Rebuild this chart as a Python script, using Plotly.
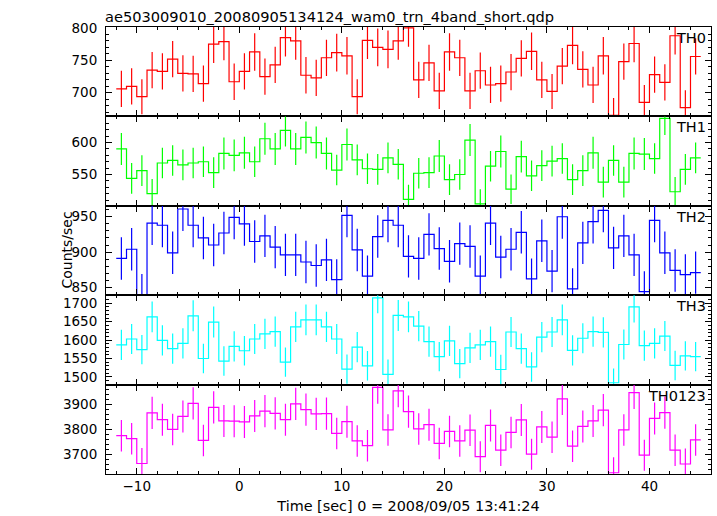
import plotly.graph_objects as go
from plotly.subplots import make_subplots

# ---- data (1-s bins, centres from -11.5 to 44.5 s) ----
t_start = -11.5
n_bins = 57
time_centres = [t_start + i for i in range(n_bins)]

th0 = [706, 710, 694, 735, 733, 752, 730, 729, 714, 775,
       779, 717, 733, 763, 725, 743, 785, 780, 727, 723,
       754, 762, 757, 694, 781, 770, 767, 780, 800, 720,
       746, 703, 763, 754, 703, 734, 712, 714, 732, 753,
       764, 720, 702, 741, 773, 736, 712, 757, 665, 748,
       776, 685, 728, 716, 788, 677, 756]
th0_err = [28, 28, 27, 28, 28, 28, 28, 28, 28, 29,
           29, 28, 28, 29, 28, 28, 29, 29, 28, 28,
           28, 29, 29, 27, 29, 29, 29, 29, 29, 28,
           28, 28, 29, 28, 28, 28, 28, 28, 28, 28,
           29, 28, 27, 28, 29, 28, 28, 29, 27, 28,
           29, 27, 28, 28, 29, 27, 28]

th1 = [590, 544, 556, 520, 568, 572, 565, 568, 570, 553,
       583, 580, 584, 570, 606, 590, 619, 590, 608, 600,
       583, 557, 597, 573, 559, 558, 576, 566, 511, 552,
       553, 579, 542, 550, 604, 504, 563, 586, 527, 578,
       548, 564, 571, 575, 542, 556, 584, 538, 572, 538,
       583, 582, 575, 638, 523, 558, 576]
th1_err = [25, 24, 24, 23, 24, 24, 24, 24, 24, 24,
           25, 25, 25, 24, 25, 25, 25, 25, 25, 25,
           25, 24, 25, 24, 24, 24, 24, 24, 23, 24,
           24, 25, 24, 24, 25, 23, 24, 25, 23, 25,
           24, 24, 24, 24, 24, 24, 25, 24, 24, 24,
           25, 25, 24, 26, 23, 24, 24]

th2 = [891, 904, 840, 941, 938, 899, 961, 938, 920, 910,
       927, 949, 940, 915, 923, 907, 896, 896, 886, 881,
       889, 861, 952, 903, 866, 922, 945, 938, 894, 891,
       925, 905, 887, 912, 908, 866, 941, 893, 904, 928,
       862, 916, 873, 950, 848, 913, 943, 959, 906, 923,
       896, 844, 945, 899, 874, 868, 871]
th2_err = [30, 30, 29, 31, 31, 30, 31, 31, 30, 30,
           30, 31, 31, 30, 30, 30, 30, 30, 30, 30,
           30, 29, 31, 30, 29, 30, 31, 31, 30, 30,
           30, 30, 30, 30, 30, 29, 31, 30, 30, 30,
           29, 30, 30, 31, 29, 30, 31, 31, 30, 30,
           30, 29, 31, 30, 30, 29, 30]

th3 = [1587, 1603, 1574, 1663, 1599, 1577, 1591, 1666, 1550, 1649,
       1543, 1583, 1571, 1603, 1617, 1623, 1540, 1636, 1655, 1655,
       1636, 1603, 1521, 1581, 1530, 1715, 1507, 1667, 1663, 1638,
       1596, 1555, 1598, 1536, 1579, 1587, 1596, 1520, 1622, 1577,
       1527, 1608, 1622, 1655, 1572, 1605, 1623, 1621, 1484, 1588,
       1690, 1585, 1591, 1611, 1531, 1557, 1555]
th3_err = [41, 41, 40, 42, 41, 41, 41, 42, 40, 42,
           40, 41, 40, 41, 41, 41, 40, 41, 42, 42,
           41, 41, 40, 41, 40, 42, 40, 42, 42, 41,
           41, 40, 41, 40, 41, 41, 41, 40, 41, 41,
           40, 41, 41, 42, 41, 41, 41, 41, 39, 41,
           42, 41, 41, 41, 40, 40, 40]

th0123 = [3774, 3762, 3663, 3865, 3838, 3799, 3851, 3903, 3755, 3887,
          3833, 3832, 3829, 3853, 3872, 3863, 3838, 3901, 3878, 3861,
          3862, 3783, 3830, 3753, 3734, 3967, 3797, 3953, 3870, 3801,
          3818, 3743, 3791, 3753, 3796, 3690, 3815, 3716, 3787, 3837,
          3700, 3809, 3768, 3921, 3732, 3811, 3833, 3876, 3626, 3797,
          3946, 3696, 3843, 3866, 3716, 3661, 3757]
th0123_err = [63, 63, 62, 64, 64, 63, 64, 64, 63, 64,
              64, 64, 64, 64, 64, 64, 64, 64, 64, 64,
              64, 63, 64, 63, 63, 65, 63, 65, 64, 63,
              64, 63, 63, 63, 63, 62, 64, 63, 63, 64,
              62, 64, 63, 64, 63, 64, 64, 64, 62, 63,
              65, 62, 64, 64, 63, 62, 63]

bands = ["TH0", "TH1", "TH2", "TH3", "TH0123"]
series = [th0, th1, th2, th3, th0123]
errors = [th0_err, th1_err, th2_err, th3_err, th0123_err]
colors = ["#ff0000", "#00ff00", "#0000ff", "#00ffff", "#ff00ff"]
y_ranges = [[663.5, 801.5], [501, 641], [839, 965.5], [1479, 1722], [3621, 3978]]
y_dticks = [50, 50, 50, 50, 100]
y_minor = [10, 10, 10, 10, 20]
x_range = [-13, 46]

title_text = "ae503009010_20080905134124_wam0_trn_4band_short.qdp"
x_title = "Time [sec] 0 = 2008/09/05 13:41:24"
y_title = "Counts/sec"

FONT = "DejaVu Sans, Liberation Sans, sans-serif"

fig = make_subplots(rows=5, cols=1, shared_xaxes=True, vertical_spacing=0)

for k, (name, vals, errs, col) in enumerate(zip(bands, series, errors, colors), start=1):
    edges = [c - 0.5 for c in time_centres] + [time_centres[-1] + 0.5]
    step_y = list(vals) + [vals[-1]]
    fig.add_trace(go.Scatter(x=edges, y=step_y, mode="lines", line_shape="hv",
                             line=dict(color=col, width=1.2), showlegend=False,
                             hoverinfo="skip"), row=k, col=1)
    fig.add_trace(go.Scatter(x=time_centres, y=vals, mode="markers",
                             marker=dict(size=0.1, color=col, opacity=0),
                             error_y=dict(type="data", array=errs, width=0,
                                          thickness=1.2, color=col),
                             showlegend=False, name=name), row=k, col=1)
    fig.update_yaxes(row=k, col=1, range=y_ranges[k - 1], dtick=y_dticks[k - 1],
                     tick0=0, ticks="inside", ticklen=6, tickcolor="black",
                     showline=True, linecolor="black", linewidth=1, mirror="allticks",
                     showgrid=False, zeroline=False, ticklabelstandoff=5,
                     tickfont=dict(size=13.5, color="black", family=FONT),
                     minor=dict(ticks="inside", dtick=y_minor[k - 1], tick0=0,
                                ticklen=3, tickcolor="black", showgrid=False))
    fig.update_xaxes(row=k, col=1, range=x_range, dtick=10, tick0=0,
                     ticks="inside", ticklen=6, tickcolor="black",
                     showline=True, linecolor="black", linewidth=1, mirror="allticks",
                     showgrid=False, zeroline=False,
                     tickfont=dict(size=13.5, color="black", family=FONT),
                     minor=dict(ticks="inside", dtick=2, tick0=0, ticklen=3,
                                tickcolor="black", showgrid=False))
    xref = "x domain" if k == 1 else f"x{k} domain"
    yref = "y domain" if k == 1 else f"y{k} domain"
    fig.add_annotation(text=name, xref=xref, yref=yref, x=1, y=1,
                       xanchor="right", yanchor="top", xshift=-3, yshift=-1,
                       showarrow=False, font=dict(size=14.5, color="black", family=FONT))

fig.update_xaxes(row=5, col=1, title=dict(text=x_title, standoff=7,
                                          font=dict(size=14.4, color="black", family=FONT)))

fig.add_annotation(text=title_text, xref="paper", yref="paper", x=0, y=1,
                   xanchor="left", yanchor="bottom", yshift=0, xshift=-3, showarrow=False,
                   font=dict(size=14.6, color="black", family=FONT))
fig.add_annotation(text=y_title, xref="paper", yref="paper", x=-0.066, y=0.5,
                   xanchor="center", yanchor="middle", textangle=-90, showarrow=False,
                   font=dict(size=14, color="black", family=FONT))

fig.update_layout(width=717, height=516,
                  margin=dict(l=106, r=5, t=27, b=40),
                  paper_bgcolor="white", plot_bgcolor="white",
                  font=dict(family=FONT, size=14, color="black"))

fig.write_html("out.html", config={"displayModeBar": False},
               post_script="document.body.style.margin='0';document.body.style.overflow='hidden';")
